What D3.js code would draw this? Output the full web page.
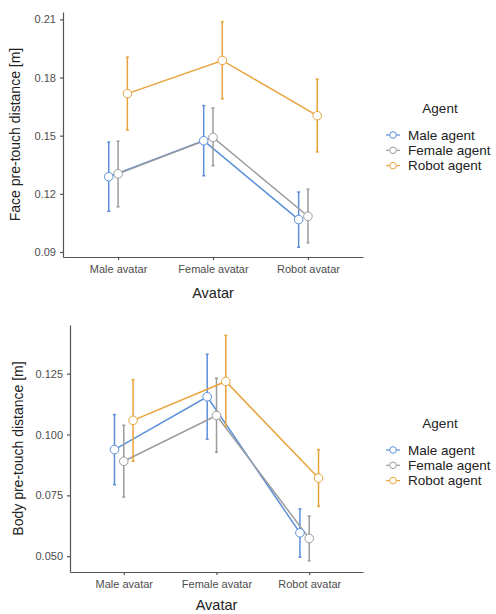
<!DOCTYPE html>
<html>
<head>
<meta charset="utf-8">
<script src="https://cdn.jsdelivr.net/npm/d3@7"></script>
<style>
  body { margin: 0; background: #fff; }
  text { font-family: "Liberation Sans", Arial, sans-serif; }
</style>
</head>
<body>
<div id="chart"></div>
<script>
// categories and series
const avatars = ["Male avatar", "Female avatar", "Robot avatar"];
const agents = ["Male agent", "Female agent", "Robot agent"];
const agentColors = ["#5b8fd8", "#9c9c9c", "#e8a33c"];

// face pre-touch distance: mean, lower, upper per agent (across avatars)
const faceMean = [
    [0.1288, 0.1474, 0.1067],
    [0.1303, 0.1491, 0.1084],
    [0.1717, 0.1888, 0.1603]
];
const faceLow = [
    [0.1110, 0.1293, 0.0924],
    [0.1133, 0.1345, 0.0947],
    [0.1529, 0.1690, 0.1416]
];
const faceHigh = [
    [0.1467, 0.1655, 0.1209],
    [0.1471, 0.1643, 0.1224],
    [0.1905, 0.2088, 0.1791]
];
const faceTicks = [0.09, 0.12, 0.15, 0.18, 0.21];

// body pre-touch distance
const bodyMean = [
    [0.0938, 0.1155, 0.0596],
    [0.0890, 0.1078, 0.0573],
    [0.1058, 0.1218, 0.0821]
];
const bodyLow = [
    [0.0794, 0.0981, 0.0496],
    [0.0743, 0.0927, 0.0481],
    [0.0890, 0.1034, 0.0705]
];
const bodyHigh = [
    [0.1082, 0.1330, 0.0694],
    [0.1038, 0.1231, 0.0665],
    [0.1225, 0.1407, 0.0938]
];
const bodyTicks = [0.050, 0.075, 0.100, 0.125];

const svg = d3.select("#chart").append("svg")
    .attr("width", 496)
    .attr("height", 614);

const dodge = d3.scalePoint().domain(agents).range([-9.3, 9.3]);

function drawPanel(opts) {
    const g = svg.append("g");
    const x = d3.scalePoint().domain(avatars)
        .range([opts.left, opts.right]).padding(0.58);
    const y = d3.scaleLinear().domain(opts.domain)
        .range([opts.bottom, opts.top]);

    // axes
    const xAxis = g.append("g")
        .attr("transform", `translate(0,${opts.bottom})`)
        .call(d3.axisBottom(x).tickSize(3).tickSizeOuter(0).tickPadding(5));
    const yAxis = g.append("g")
        .attr("transform", `translate(${opts.left},0)`)
        .call(d3.axisLeft(y).tickValues(opts.ticks).tickFormat(d3.format(opts.fmt))
            .tickSize(3).tickSizeOuter(0).tickPadding(4));
    [xAxis, yAxis].forEach(a => {
        a.select(".domain").attr("stroke", "#555").attr("stroke-width", 1.2);
        a.selectAll(".tick line").attr("stroke", "#555").attr("stroke-width", 1.2);
        a.selectAll("text").attr("fill", "#4d4d4d").attr("font-size", 11);
    });

    // axis titles
    g.append("text")
        .attr("x", (opts.left + opts.right) / 2)
        .attr("y", opts.bottom + opts.xTitleGap)
        .attr("text-anchor", "middle")
        .attr("font-size", 14.5)
        .attr("fill", "#222")
        .text("Avatar");
    g.append("text")
        .attr("transform", `translate(${opts.titleX},${(opts.top + opts.bottom) / 2}) rotate(-90)`)
        .attr("text-anchor", "middle")
        .attr("font-size", 14)
        .attr("fill", "#222")
        .text(opts.ylabel);

    // series
    agents.forEach((agent, i) => {
        const px = j => x(avatars[j]) + dodge(agent);
        const idx = avatars.map((d, j) => j);
        g.append("path")
            .datum(idx)
            .attr("fill", "none")
            .attr("stroke", agentColors[i])
            .attr("stroke-width", 1.5)
            .attr("d", d3.line().x(j => px(j)).y(j => y(opts.mean[i][j])));
        const eb = g.append("g").attr("stroke", agentColors[i]).attr("stroke-width", 1.5);
        eb.selectAll("line.v").data(idx).enter().append("line")
            .attr("x1", j => px(j)).attr("x2", j => px(j))
            .attr("y1", j => y(opts.low[i][j])).attr("y2", j => y(opts.high[i][j]));
        eb.selectAll("line.lo").data(idx).enter().append("line")
            .attr("x1", j => px(j) - 1.5).attr("x2", j => px(j) + 1.5)
            .attr("y1", j => y(opts.low[i][j])).attr("y2", j => y(opts.low[i][j]));
        eb.selectAll("line.hi").data(idx).enter().append("line")
            .attr("x1", j => px(j) - 1.5).attr("x2", j => px(j) + 1.5)
            .attr("y1", j => y(opts.high[i][j])).attr("y2", j => y(opts.high[i][j]));
    });
    agents.forEach((agent, i) => {
        g.selectAll(null).data(avatars).enter().append("circle")
            .attr("cx", (d, j) => x(d) + dodge(agent))
            .attr("cy", (d, j) => y(opts.mean[i][j]))
            .attr("r", 4.3)
            .attr("fill", "#fff")
            .attr("stroke", agentColors[i])
            .attr("stroke-width", 1);
    });

    // legend
    const lg = g.append("g");
    lg.append("text")
        .attr("x", 440).attr("y", opts.legendY)
        .attr("text-anchor", "middle")
        .attr("font-size", 13.5)
        .attr("fill", "#222")
        .text("Agent");
    agents.forEach((agent, i) => {
        const ly = opts.legendY + 22 + i * 15.3;
        lg.append("line")
            .attr("x1", 386).attr("x2", 400)
            .attr("y1", ly).attr("y2", ly)
            .attr("stroke", agentColors[i]).attr("stroke-width", 1.2);
        lg.append("circle")
            .attr("cx", 393).attr("cy", ly).attr("r", 3.3)
            .attr("fill", "#fff").attr("stroke", agentColors[i]).attr("stroke-width", 1);
        lg.append("text")
            .attr("x", 408).attr("y", ly + 4.8)
            .attr("font-size", 13.5)
            .attr("fill", "#222")
            .text(agent);
    });
}

drawPanel({
    left: 63, right: 363, top: 12, bottom: 257,
    domain: [0.0874, 0.2138], ticks: faceTicks, fmt: ".2f",
    mean: faceMean, low: faceLow, high: faceHigh,
    ylabel: "Face pre-touch distance [m]", titleX: 20, legendY: 113, xTitleGap: 41
});

drawPanel({
    left: 70, right: 363, top: 325, bottom: 572,
    domain: [0.0435, 0.145], ticks: bodyTicks, fmt: ".3f",
    mean: bodyMean, low: bodyLow, high: bodyHigh,
    ylabel: "Body pre-touch distance [m]", titleX: 23, legendY: 428, xTitleGap: 38
});
</script>
</body>
</html>
